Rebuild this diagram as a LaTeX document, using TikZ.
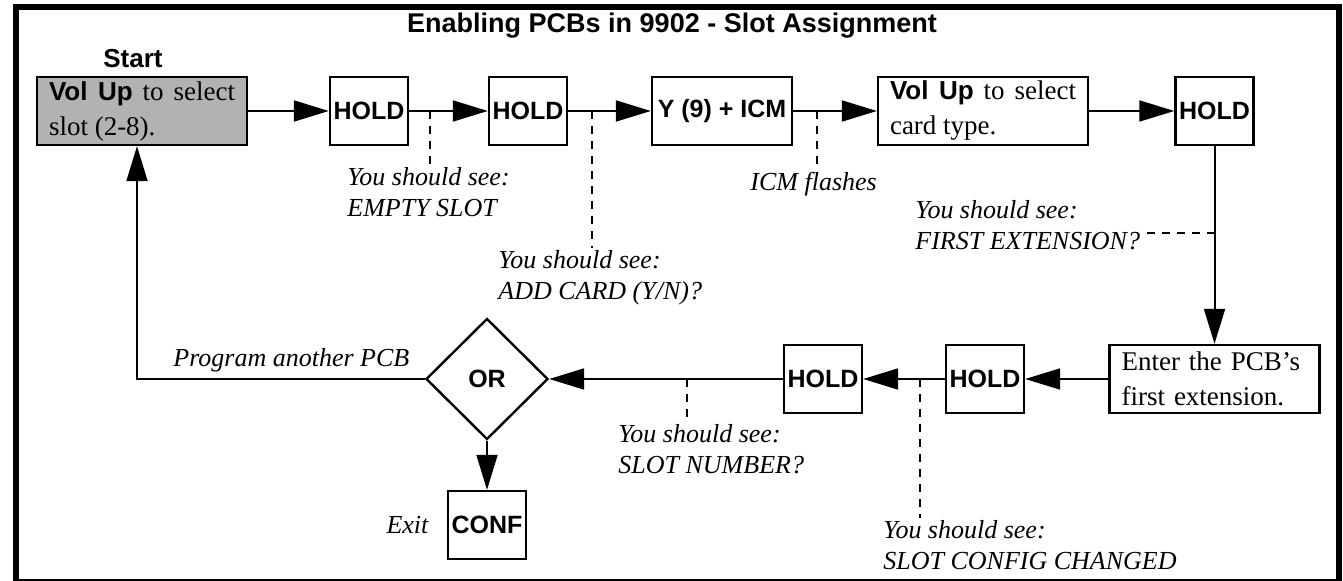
\documentclass[tikz,border=0pt]{standalone}
\usepackage{fontspec}
\setmainfont{Liberation Serif}
\setsansfont{Liberation Sans}
\usetikzlibrary{arrows.meta,positioning,calc,shapes.geometric}

\begin{document}
\begin{tikzpicture}[x=0.5pt,y=-0.5pt]
\tikzset{
    stepbox/.style={draw,line width=1.2pt,minimum width=39pt,minimum height=34pt,inner sep=0pt,font=\sffamily\bfseries\fontsize{12.5}{15}\selectfont},
    textbox/.style={draw,line width=1.2pt,minimum height=34pt,text width=93pt,inner xsep=6pt,inner ysep=0pt,font=\fontsize{13.5}{17.5}\selectfont},
    choice/.style={diamond,draw,line width=1.2pt,minimum width=61pt,minimum height=60.5pt,inner sep=0pt,font=\sffamily\bfseries\fontsize{12.5}{15}\selectfont},
    note/.style={font=\itshape\fontsize{13}{15.75}\selectfont,align=left,inner sep=0pt},
    flow/.style={line width=1pt,-{Triangle[length=17.5pt,width=10.5pt]}},
    hint/.style={line width=1pt,dash pattern=on 4pt off 3.5pt}
}
\useasboundingbox (0,0) rectangle (1343,581);
\draw[line width=3pt] (15.5,7.5) rectangle (1339,582.5);
  % titles
\node[font=\sffamily\bfseries\fontsize{13.5}{16}\selectfont] (title) at (672,26) {Enabling PCBs in 9902 - Slot Assignment};
\node[font=\sffamily\bfseries\fontsize{13}{16}\selectfont] (startlbl) at (133,59) {Start};
  % steps
\node[textbox,align=justify,fill=black!30] (start) at (142,111) {{\sffamily\bfseries\fontsize{13}{17.5}\selectfont Vol Up} to select slot (2-8).};
\node[stepbox] (hold1) at (369,111) {HOLD};
\node[stepbox] (hold2) at (528,111) {HOLD};
\node[stepbox,minimum width=70pt] (icm) at (722,111) {Y (9) + ICM};
\node[textbox,align=justify] (cardtype) at (983,111) {{\sffamily\bfseries\fontsize{13}{17.5}\selectfont Vol Up} to select card type.};
\node[stepbox] (hold3) at (1214.5,111) {HOLD};
\node[textbox,align=left] (enter) at (1214.5,379) {Enter the PCB's\\first extension.};
\node[stepbox] (hold4) at (985,379) {HOLD};
\node[stepbox] (hold5) at (823,379) {HOLD};
\node[choice] (or) at (487,379) {OR};
\node[stepbox] (conf) at (487,525) {CONF};
\node[note,left=9pt of conf] (exit) {Exit};
  % what the display shows
\node[note,anchor=north west] (seeslot) at (347,167) {You should see:\\EMPTY SLOT};
\node[note,anchor=north west] (seecard) at (498,250) {You should see:\\ADD CARD (Y/N)?};
\node[note,anchor=north west] (flash) at (750,172) {ICM flashes};
\node[note,anchor=north west] (seeext) at (915,200) {You should see:\\FIRST EXTENSION?};
\node[note,anchor=north west] (seenum) at (618,424) {You should see:\\SLOT NUMBER?};
\node[note,anchor=north west] (seecfg) at (883,520) {You should see:\\SLOT CONFIG CHANGED};
\node[note,anchor=base west] (again) at (173,367) {Program another PCB};
\coordinate (t1) at (430,111);
\coordinate (t2) at (592,111);
\coordinate (t3) at (817,111);
\coordinate (t4) at (1214.5,233);
\coordinate (t5) at (687,379);
\coordinate (t6) at (920,379);
\draw[hint] (t1) -- ([yshift=1pt]t1 |- seeslot.north);
\draw[hint] (t2) -- ([yshift=1pt]t2 |- seecard.north);
\draw[hint] (t3) -- ([yshift=2pt]t3 |- flash.north);
\draw[hint] (t4) -- ([xshift=2.5pt]t4 -| seeext.east);
\draw[hint] (t5) -- ([yshift=1pt]t5 |- seenum.north);
\draw[hint] (t6) -- ([yshift=1pt]t6 |- seecfg.north);
% flow
\path[flow]
(start) edge (hold1)
(hold1) edge (hold2)
(hold2) edge (icm)
(icm) edge (cardtype)
(cardtype) edge (hold3)
(hold3) edge (enter)
(enter) edge (hold4)
(hold4) edge (hold5)
(hold5) edge (or)
(or) edge (conf)
;
\draw[flow] (or.west) -| ([xshift=-2.5pt]start.south);
\end{tikzpicture}
\end{document}
